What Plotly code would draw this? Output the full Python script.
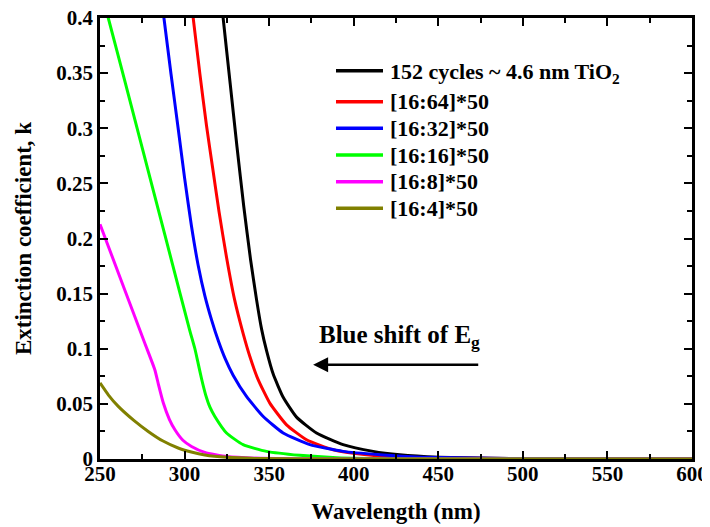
import plotly.graph_objects as go

# ---- data ----
black_x = [320, 322.8, 327, 331, 335, 339, 342.5, 345.5, 348.5, 352.4, 358.3, 366.2, 378.0, 393.7, 411.5, 427.2, 450, 480, 520, 600]
black_k = [0.443, 0.400, 0.340, 0.283, 0.229, 0.181, 0.145, 0.118, 0.098, 0.077, 0.056, 0.038, 0.0236, 0.013, 0.0069, 0.0039, 0.0017, 0.0007, 0.0003, 0.0]

red_x = [302, 305.1, 309, 313, 316.5, 320.4, 324.8, 329.5, 334.6, 338.6, 343.5, 350.4, 360.3, 372.1, 387.8, 407.6, 430, 470, 520, 600]
red_k = [0.440, 0.400, 0.350, 0.302, 0.265, 0.224, 0.183, 0.145, 0.114, 0.093, 0.072, 0.0507, 0.031, 0.0175, 0.0084, 0.0039, 0.0017, 0.0006, 0.0002, 0.0]

blue_x = [285, 287.8, 292, 296.2, 300, 304, 308, 312, 316, 320, 324, 328.7, 336.6, 346.5, 358.3, 374.1, 393.7, 415.4, 440, 480, 530, 600]
blue_k = [0.435, 0.400, 0.349, 0.300, 0.255, 0.212, 0.176, 0.148, 0.126, 0.107, 0.091, 0.076, 0.0567, 0.0386, 0.0236, 0.013, 0.0069, 0.0039, 0.0017, 0.0006, 0.0002, 0.0]

green_x = [250, 254.9, 265, 275, 288.4, 297.2, 303, 306.1, 308, 310, 312.5, 315, 317.9, 324.8, 334.6, 348.5, 368.1, 390, 430, 600]
green_k = [0.429, 0.400, 0.341, 0.282, 0.203, 0.151, 0.117, 0.100, 0.087, 0.073, 0.058, 0.047, 0.0386, 0.0236, 0.013, 0.0069, 0.0033, 0.0012, 0.0003, 0.0]

magenta_x = [250, 264.7, 276.5, 282.4, 284.5, 287.4, 291, 294.3, 299, 304.1, 312, 325, 345, 380, 600]
magenta_k = [0.213, 0.153, 0.105, 0.081, 0.068, 0.051, 0.036, 0.0265, 0.017, 0.0114, 0.006, 0.0022, 0.0006, 0.0001, 0.0]

olive_x = [250, 255, 260.8, 270, 278.5, 287, 296.2, 304, 312, 325, 345, 380, 600]
olive_k = [0.069, 0.058, 0.0477, 0.035, 0.025, 0.0165, 0.010, 0.0063, 0.0036, 0.0015, 0.0004, 0.0001, 0.0]

names = ["152 cycles ~ 4.6 nm TiO<sub>2</sub>", "[16:64]*50", "[16:32]*50",
         "[16:16]*50", "[16:8]*50", "[16:4]*50"]
colors = ["#000000", "#FF0000", "#0000FF", "#00FF00", "#FF00FF", "#808000"]
series = [(black_x, black_k), (red_x, red_k), (blue_x, blue_k),
          (green_x, green_k), (magenta_x, magenta_k), (olive_x, olive_k)]

x_range = [250, 600]
y_range = [0, 0.4]

FONT = "Liberation Serif"
# page has an 8px body margin, so the figure is sized to fill the rest of the window
OFF = 8
W, H = 710 - OFF, 527 - OFF
ML, MR, MT, MB = 100 - OFF, 18, 18 - OFF, 68
PW, PH = W - ML - MR, H - MT - MB


def px2paper_x(px):
    # px: window pixel
    return (px - OFF - ML) / PW


def px2paper_y(py):
    return (H - MB - (py - OFF)) / PH


fig = go.Figure()
for (xs, ks), name, col in zip(series, names, colors):
    fig.add_trace(go.Scatter(x=xs, y=ks, mode="lines", name=name, showlegend=False,
                             line=dict(color=col, width=3, shape="spline", smoothing=0.5)))

axis_common = dict(
    showline=True, linecolor="black", linewidth=2.5, mirror="allticks",
    ticks="inside", ticklen=8, tickwidth=2, tickcolor="black",
    showgrid=False, zeroline=False, automargin=False, ticklabeloverflow="allow",
    tickfont=dict(family=FONT, size=21, color="black", weight="bold"),
)

fig.update_xaxes(range=x_range, dtick=50, tick0=250, ticklabelstandoff=-6,
                 minor=dict(ticks="inside", ticklen=5, tickwidth=2, dtick=25, tickcolor="black", showgrid=False),
                 title=dict(text="Wavelength (nm)", standoff=18,
                            font=dict(family=FONT, size=23, color="black", weight="bold")),
                 **axis_common)
fig.update_yaxes(range=y_range, dtick=0.05, tick0=0,
                 minor=dict(ticks="inside", ticklen=5, tickwidth=2, dtick=0.025, tickcolor="black", showgrid=False),
                 title=dict(text="Extinction coefficient, k", standoff=19,
                            font=dict(family=FONT, size=23, color="black", weight="bold")),
                 **axis_common)

# hand-drawn legend (matches the reference's long sample lines)
legend_rows_px = [70.7, 101.7, 128.3, 155.0, 181.7, 208.3]
for name, col, ry in zip(names, colors, legend_rows_px):
    yp = px2paper_y(ry)
    fig.add_shape(type="line", xref="paper", yref="paper",
                  x0=px2paper_x(336), x1=px2paper_x(383), y0=yp, y1=yp,
                  line=dict(color=col, width=3.5))
    fig.add_annotation(xref="paper", yref="paper", x=px2paper_x(388), y=yp,
                       xanchor="left", yanchor="middle", showarrow=False, text=name,
                       font=dict(family=FONT, size=22, color="black", weight="bold"),
                       yshift=-2 if "sub" in name else 0)

fig.add_annotation(x=378.0, y=0.111, xref="x", yref="y", xanchor="left", yanchor="middle",
                   text="Blue shift of E<sub>g</sub>", showarrow=False,
                   font=dict(family=FONT, size=25, color="black", weight="bold"))
fig.add_annotation(x=376, y=0.0854, ax=474.5, ay=0.0854, xref="x", yref="y", axref="x", ayref="y",
                   text="", showarrow=True, arrowhead=2, arrowsize=1.2, arrowwidth=2.5, arrowcolor="black")

fig.update_layout(
    width=W, height=H,
    margin=dict(l=ML, r=MR, t=MT, b=MB),
    paper_bgcolor="white", plot_bgcolor="white",
    showlegend=False,
)

fig.write_html("out.html")
